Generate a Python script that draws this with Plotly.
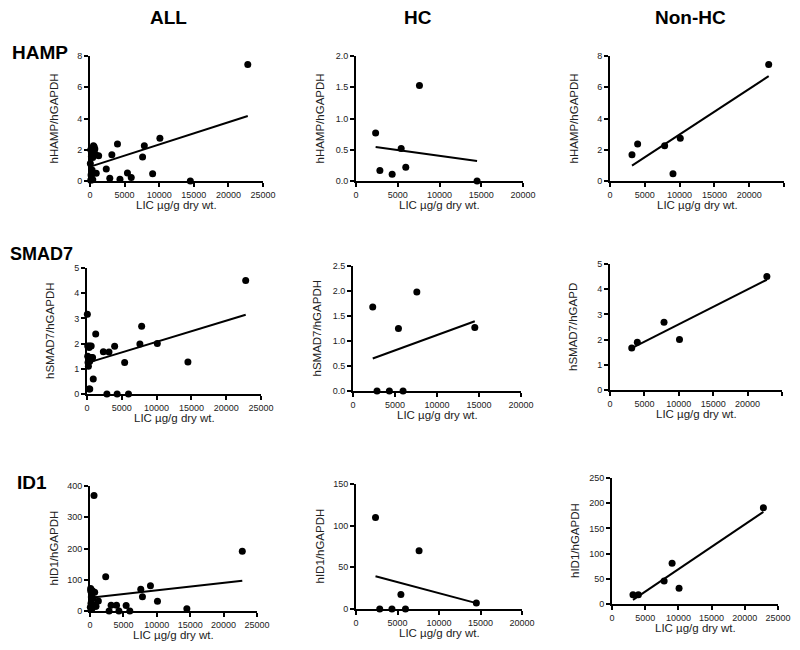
import numpy as np
import plotly.graph_objects as go

# LIC (µg/g dry wt.) for the two patient groups
hc_lic = [2350, 2860, 4330, 5410, 5960, 7600, 14500]
nonhc_lic = [3160, 3970, 7850, 9050, 10100, 22800]
# remaining samples, all at low LIC (only appear in the ALL column)
other_lic = [100, 300, 500, 600, 200, 650, 400, 800, 1250, 50, 300, 900, 150, 250, 400, 100, 700, 350]

# HAMP / GAPDH
hamp_hc = [0.77, 0.17, 0.11, 0.52, 0.22, 1.53, 0.0]
hamp_nonhc = [1.68, 2.37, 2.26, 0.47, 2.73, 7.45]
hamp_other = [2.0, 1.95, 2.25, 2.2, 1.55, 1.75, 1.5, 1.7, 1.62, 1.12, 0.7, 0.5, 0.38, 0.17, 0.08, 0.05, 2.05, 1.9]

# SMAD7 / GAPDH (one non-HC sample missing)
smad7_hc = [1.68, 0.0, 0.0, 1.25, 0.0, 1.98, 1.27]
smad7_nonhc_lic = [3160, 3970, 7850, 10100, 22800]
smad7_nonhc = [1.67, 1.89, 2.69, 2.0, 4.5]
smad7_other = [1.9, 1.85, 1.45, 1.9, 1.1, 1.45, 1.3, 1.45, 2.38, 3.16, 0.2, 0.6, 1.25, 1.3, 0.2, 1.5, 1.4, 1.9]

# ID1 / GAPDH
id1_hc = [109.7, 0.0, 0.0, 17.5, 0.0, 69.8, 7.2]
id1_nonhc = [18.6, 18.6, 45.8, 80.9, 31.2, 191.0]
id1_other = [72, 45, 15, 370, 45, 20, 40, 15, 32, 12, 8, 15, 25, 55, 18, 65, 60, 65]

col_titles = ["ALL", "HC", "Non-HC"]
row_titles = ["HAMP", "SMAD7", "ID1"]
x_label = "LIC µg/g dry wt."

# the page body keeps its default 8px margin, so the figure is 16px smaller
OFF = 8
W, H = 800 - 2 * OFF, 650 - 2 * OFF
FONT = "Arial, Liberation Sans, sans-serif"


def px(x):
    return (x - OFF) / W


def py(y):
    return 1 - (y - OFF) / H


# panel boxes in page pixels: (left, right, top, bottom)
boxes = [
    (90, 263, 56, 181), (356, 523, 56, 181), (610, 784, 56, 181),
    (87, 261, 268, 394), (353, 521, 266, 391), (610, 782, 264, 390),
    (90, 257, 486, 611), (356, 522, 484, 609), (612, 778, 478, 604),
]

panels = [
    # x values, y values, xmax, ymax, dtick, y title, tick format
    (hc_lic + nonhc_lic + other_lic, hamp_hc + hamp_nonhc + hamp_other, 25000, 8, 2, "hHAMP/hGAPDH", "d"),
    (hc_lic, hamp_hc, 20000, 2, 0.5, "hHAMP/hGAPDH", ".1f"),
    (nonhc_lic, hamp_nonhc, 25000, 8, 2, "hHAMP/hGAPDH", "d"),
    (hc_lic + smad7_nonhc_lic + other_lic, smad7_hc + smad7_nonhc + smad7_other, 25000, 5, 1, "hSMAD7/hGAPDH", "d"),
    (hc_lic, smad7_hc, 20000, 2.5, 0.5, "hSMAD7/hGAPDH", ".1f"),
    (smad7_nonhc_lic, smad7_nonhc, 25000, 5, 1, "hSMAD7/hGAPD", "d"),
    (hc_lic + nonhc_lic + other_lic, id1_hc + id1_nonhc + id1_other, 25000, 400, 100, "hID1/hGAPDH", "d"),
    (hc_lic, id1_hc, 20000, 150, 50, "hID1/hGAPDH", "d"),
    (nonhc_lic, id1_nonhc, 25000, 250, 50, "hID1/hGAPDH", "d"),
]

fig = go.Figure()
annotations = []

for i, ((xs, ys, xmax, ymax, dt, ytitle, fmt), (l, r, t, b)) in enumerate(zip(panels, boxes)):
    n = "" if i == 0 else str(i + 1)
    xa, ya = "x" + n, "y" + n
    xs = np.array(xs, dtype=float)
    ys = np.array(ys, dtype=float)

    # least-squares line over the observed LIC range
    slope, icpt = np.polyfit(xs, ys, 1)
    fx = np.array([xs.min(), xs.max()])
    fig.add_trace(go.Scatter(x=fx, y=icpt + slope * fx, mode="lines",
                             line=dict(color="black", width=2),
                             xaxis=xa, yaxis=ya, showlegend=False, hoverinfo="skip"))
    fig.add_trace(go.Scatter(x=xs, y=ys, mode="markers",
                             marker=dict(color="black", size=7),
                             cliponaxis=False, xaxis=xa, yaxis=ya, showlegend=False))

    axis_common = dict(showline=True, linecolor="black", linewidth=2, ticks="outside",
                       ticklen=4, tickwidth=1.5, tickcolor="black", showgrid=False,
                       zeroline=False, automargin=False,
                       tickfont=dict(family=FONT, size=9, color="#222"))
    fig.update_layout(**{
        ("xaxis" + n): dict(domain=[px(l), px(r)], range=[0, xmax], dtick=5000,
                            anchor=ya, tickformat="d", **axis_common),
        ("yaxis" + n): dict(domain=[py(b), py(t)], range=[0, ymax], dtick=dt,
                            anchor=xa, tickformat=fmt, **axis_common),
    })

    annotations.append(dict(text=x_label, x=px((l + r) / 2), y=py(b + 24),
                            xanchor="center", yanchor="middle",
                            xref="paper", yref="paper", showarrow=False,
                            font=dict(family=FONT, size=11.5, color="#222")))
    annotations.append(dict(text=ytitle, x=px(l - 37), y=py((t + b) / 2),
                            xanchor="center", yanchor="middle",
                            xref="paper", yref="paper", showarrow=False, textangle=-90,
                            font=dict(family=FONT, size=11.5, color="#222")))

for txt, xc in zip(col_titles, [168, 418, 690]):
    annotations.append(dict(text="<b>" + txt + "</b>", x=px(xc), y=py(17),
                            xanchor="center", yanchor="middle",
                            xref="paper", yref="paper", showarrow=False,
                            font=dict(family=FONT, size=19, color="black")))
for txt, xc, yc, fs in zip(row_titles, [40, 41, 32], [52, 254, 482], [19, 18, 19]):
    annotations.append(dict(text="<b>" + txt + "</b>", x=px(xc), y=py(yc),
                            xanchor="center", yanchor="middle",
                            xref="paper", yref="paper", showarrow=False,
                            font=dict(family=FONT, size=fs, color="black")))

fig.update_layout(width=W, height=H, autosize=False, margin=dict(l=0, r=0, t=0, b=0),
                  paper_bgcolor="white", plot_bgcolor="white", annotations=annotations)

fig.write_html("out.html")
